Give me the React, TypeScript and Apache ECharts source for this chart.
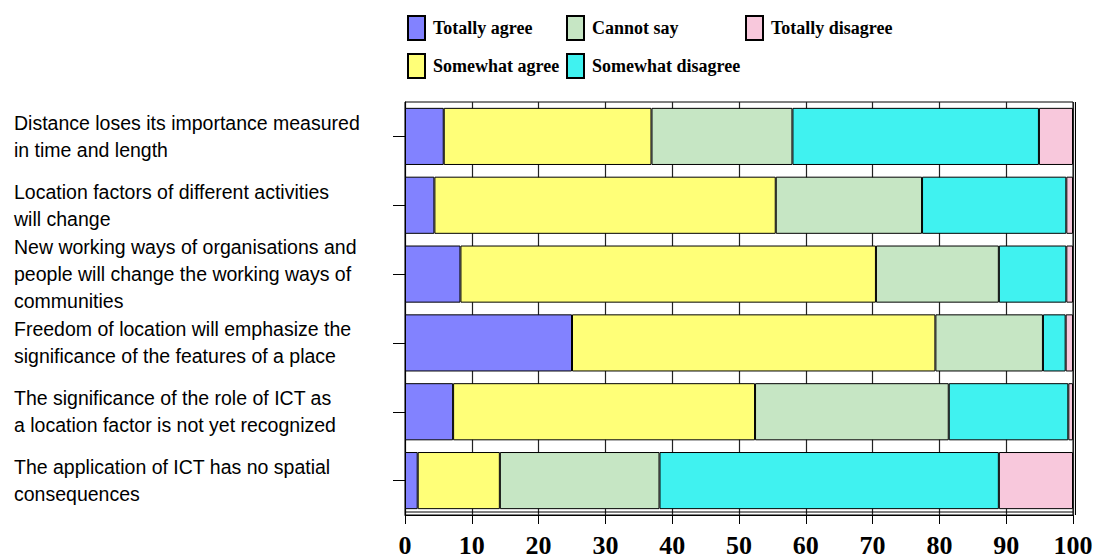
import React, { useEffect, useRef } from "react";
import * as echarts from "echarts";

const categories: string[] = [
  "Distance loses its importance measured\nin time and length",
  "Location factors of different activities\nwill change",
  "New working ways of organisations and\npeople will change the working ways of\ncommunities",
  "Freedom of location will emphasize the\nsignificance of the features of a place",
  "The significance of the role of ICT as\na location factor is not yet recognized",
  "The application of ICT has no spatial\nconsequences",
];

const totallyAgree: number[] = [5.8, 4.4, 8.3, 25.0, 7.2, 1.9];
const somewhatAgree: number[] = [31.1, 51.1, 62.2, 54.4, 45.2, 12.3];
const cannotSay: number[] = [21.1, 21.9, 18.4, 16.1, 29.0, 23.9];
const somewhatDisagree: number[] = [36.9, 21.6, 10.1, 3.4, 17.9, 50.8];
const totallyDisagree: number[] = [5.1, 1.0, 1.0, 1.1, 0.7, 11.1];

const seriesNames: string[] = [
  "Totally agree",
  "Somewhat agree",
  "Cannot say",
  "Somewhat disagree",
  "Totally disagree",
];
const seriesColors: string[] = ["#8282ff", "#ffff78", "#c6e6c4", "#40f2f0", "#f8c8dc"];
const seriesData: number[][] = [
  totallyAgree,
  somewhatAgree,
  cannotSay,
  somewhatDisagree,
  totallyDisagree,
];

const xTickInterval = 10;

export default function App() {
  const ref = useRef<HTMLDivElement>(null);
  useEffect(() => {
    if (!ref.current) return;
    const chart = echarts.init(ref.current, undefined, { renderer: "svg" });
    const legendText = {
      fontFamily: "Liberation Serif",
      fontWeight: "bold" as const,
      fontSize: 18,
      color: "#000",
      padding: [0, 0, 0, 3],
    };
    const legendBase = {
      orient: "vertical" as const,
      top: 15,
      padding: 0,
      itemWidth: 17,
      itemHeight: 24,
      itemGap: 12,
      icon: "rect",
      textStyle: legendText,
      selectedMode: false,
    };
    const option: any = {
      animation: false,
      backgroundColor: "#fff",
      legend: [
        { ...legendBase, left: 407, data: ["Totally agree", "Somewhat agree"] },
        { ...legendBase, left: 566, data: ["Cannot say", "Somewhat disagree"] },
        { ...legendBase, left: 745, data: ["Totally disagree"] },
      ],
      grid: {
        left: 405,
        right: 25,
        top: 102,
        bottom: 44,
        show: true,
        borderColor: "#000",
        borderWidth: 1,
        containLabel: false,
      },
      xAxis: {
        type: "value",
        min: 0,
        max: 100,
        interval: xTickInterval,
        axisLine: { show: true, lineStyle: { color: "#000", width: 1 } },
        axisTick: { show: true, length: 9, lineStyle: { color: "#000", width: 1 } },
        axisLabel: {
          margin: 17,
          fontFamily: "Liberation Serif",
          fontWeight: "bold",
          fontSize: 26,
          color: "#000",
        },
        splitLine: { show: true, lineStyle: { color: "#222", width: 1.2 } },
      },
      yAxis: {
        type: "category",
        data: categories,
        inverse: true,
        axisLine: { show: true, lineStyle: { color: "#000", width: 1 } },
        axisTick: {
          show: true,
          alignWithLabel: true,
          length: 12,
          lineStyle: { color: "#000", width: 1 },
        },
        axisLabel: {
          align: "left",
          margin: 391,
          fontFamily: "Liberation Sans",
          fontSize: 19.5,
          lineHeight: 27,
          color: "#000",
        },
      },
      graphic: [
        {
          type: "line",
          shape: { x1: 405, y1: 512, x2: 1073, y2: 512 },
          style: { stroke: "#000", lineWidth: 1 },
          z: 10,
        },
        {
          type: "line",
          shape: { x1: 1075.5, y1: 102, x2: 1075.5, y2: 515 },
          style: { stroke: "#000", lineWidth: 1 },
          z: 10,
        },
      ],
      series: seriesNames.map((name, i) => ({
        name,
        type: "bar",
        stack: "total",
        barCategoryGap: "17%",
        data: seriesData[i],
        itemStyle: { color: seriesColors[i], borderColor: "#000", borderWidth: 1 },
        emphasis: { disabled: true },
      })),
    };
    chart.setOption(option);
    return () => chart.dispose();
  }, []);
  return (
    <div
      ref={ref}
      style={{ position: "fixed", left: 0, top: 0, width: 1098, height: 559 }}
    />
  );
}
